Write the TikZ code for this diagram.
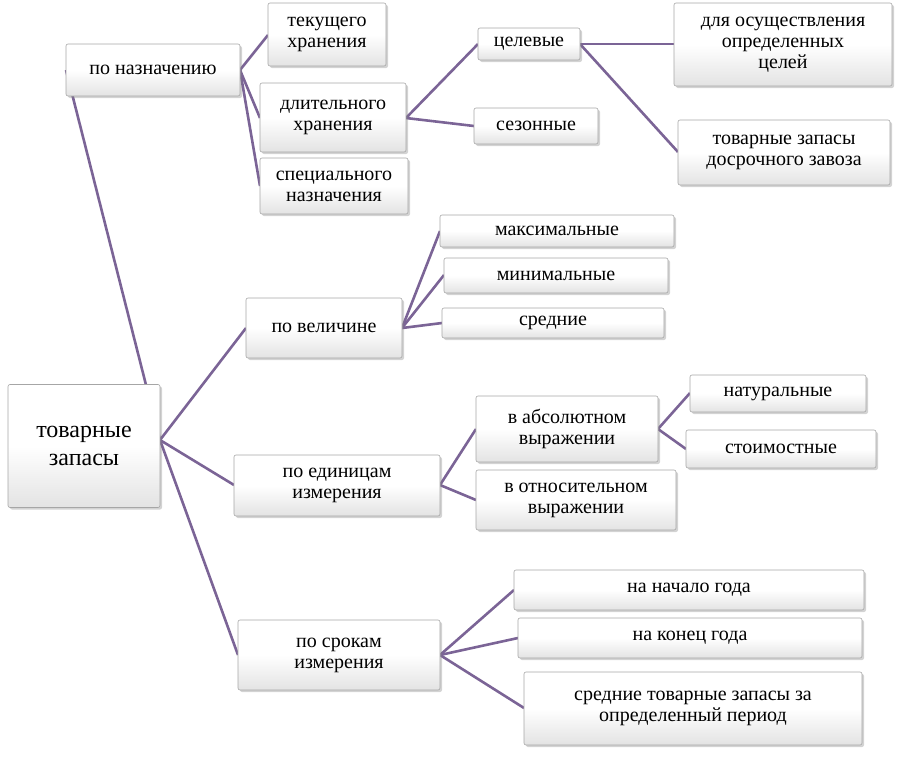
\documentclass[tikz,border=0pt]{standalone}
\usepackage{fontspec}
\setmainfont{Liberation Serif}
\usetikzlibrary{shadows}
\definecolor{ln}{HTML}{7B6496}
\tikzset{
 bx/.style={draw=gray!70, line width=0.6pt, top color=white, bottom color=gray!22, middle color=white,
   rounded corners=2pt, drop shadow={shadow xshift=2pt, shadow yshift=-2pt, opacity=0.35},
   align=center, font=\fontsize{20}{21}\selectfont, inner sep=0pt},
 cn/.style={draw=ln, line width=2.6pt}
}
\newcommand{\bxn}[6]{\node[bx, minimum width=#4-#2, minimum height=#5-#3] (#1) at ({(#2+#4)/2},{(#3+#5)/2}) {#6};}
\begin{document}
\begin{tikzpicture}[x=1pt,y=-1pt]
\useasboundingbox (0,0) rectangle (898,758);
\coordinate (r) at (160,440);
% connectors first
\draw[cn] (r) -- (66,70);
\draw[cn] (r) -- (246,328);
\draw[cn] (r) -- (234,485);
\draw[cn] (r) -- (238,655);
\draw[cn] (240,70) -- (268,35); \draw[cn] (240,70) -- (260,118); \draw[cn] (240,70) -- (260,186);
\draw[cn] (406,118) -- (478,44); \draw[cn] (406,118) -- (474,126);
\draw[cn] (580,44) -- (674,44); \draw[cn] (580,44) -- (678,152);
\draw[cn] (402,328) -- (440,231); \draw[cn] (402,328) -- (444,275); \draw[cn] (402,328) -- (442,323);
\draw[cn] (440,485) -- (476,429); \draw[cn] (440,485) -- (476,500);
\draw[cn] (658,429) -- (690,393); \draw[cn] (658,429) -- (686,449);
\draw[cn] (440,655) -- (514,590); \draw[cn] (440,655) -- (518,638); \draw[cn] (440,655) -- (524,708);
% boxes
\node[bx, minimum width=152, minimum height=123, font=\fontsize{24}{28}\selectfont] (root) at (84,446) {товарные\\запасы};
\bxn{nazn}{66}{44}{240}{96}{по назначению}
\bxn{tek}{268}{3}{386}{66}{текущего\\хранения}
\bxn{dlit}{260}{83}{406}{152}{длительного\\хранения}
\bxn{spec}{260}{158}{408}{214}{специального\\назначения}
\bxn{cel}{478}{28}{580}{60}{целевые}
\bxn{sez}{474}{108}{598}{144}{сезонные}
\bxn{dlya}{674}{3}{892}{86}{для осуществления\\определенных\\целей}
\bxn{dosr}{678}{120}{890}{185}{товарные запасы\\досрочного завоза}
\bxn{vel}{246}{298}{402}{358}{по величине}
\bxn{max}{440}{215}{674}{247}{максимальные}
\bxn{min}{444}{258}{668}{293}{минимальные}
\bxn{sr}{442}{308}{664}{338}{средние}
\bxn{ed}{234}{455}{440}{516}{по единицам\\измерения}
\bxn{abs}{476}{396}{658}{462}{в абсолютном\\выражении}
\bxn{otn}{476}{470}{676}{530}{в относительном\\выражении}
\bxn{nat}{690}{375}{866}{412}{натуральные}
\bxn{st}{686}{430}{876}{468}{стоимостные}
\bxn{sro}{238}{620}{440}{690}{по срокам\\измерения}
\bxn{nach}{514}{570}{864}{610}{на начало года}
\bxn{kon}{518}{618}{862}{658}{на конец года}
\bxn{srt}{524}{672}{862}{745}{средние товарные запасы за\\определенный период}
\end{tikzpicture}
\end{document}
